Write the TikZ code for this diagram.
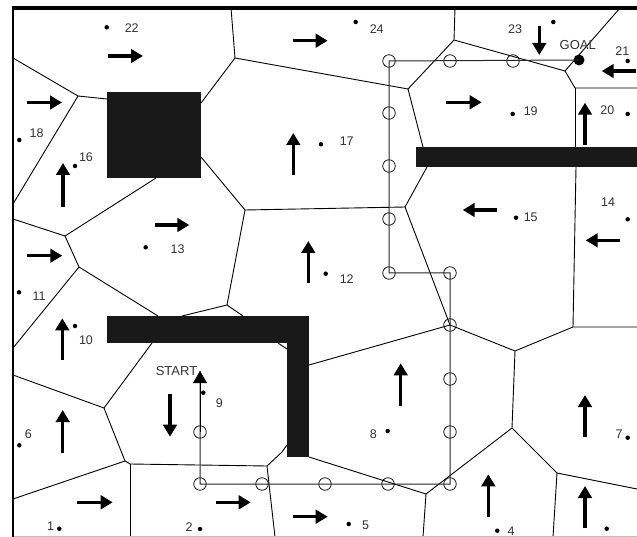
\documentclass[tikz,border=0pt]{standalone}
\usepackage{fontspec}
\setmainfont{Liberation Sans}
\usetikzlibrary{arrows.meta}
\begin{document}
\begin{tikzpicture}[x=1pt,y=-1pt,
  edge/.style={line width=0.9pt, black},
  wall/.style={fill=black!90, draw=none},
  dirarrow/.style={line width=3.3pt, -{Triangle[length=12pt,width=13.5pt]}},
  route/.style={line width=1pt, black!85},
  wp/.style={draw=black, line width=0.75pt, circle, minimum size=12.5pt, inner sep=0pt},
  seed/.style={fill=black, circle, minimum size=4.5pt, inner sep=0pt},
  lbl/.style={font=\fontsize{12.5}{14}\selectfont, text=black!80, inner sep=0pt}
]
\fill[white] (0,0) rectangle (637,537);
\useasboundingbox (0,0) rectangle (637,537);

% Voronoi vertices
\coordinate (A) at (235,58);
\coordinate (B) at (408,89);
\coordinate (C) at (245,210);
\coordinate (D) at (405,207);
\coordinate (E) at (227,305);
\coordinate (F) at (65,236);
\coordinate (G) at (79,267);
\coordinate (H) at (104,408);
\coordinate (I1) at (125,461);
\coordinate (I2) at (130,464);
\coordinate (J) at (267,466);
\coordinate (K) at (450,325);
\coordinate (L) at (515,351);
\coordinate (M) at (573,327);
\coordinate (N) at (565,71);
\coordinate (O) at (454,40);
\coordinate (P) at (512,428);
\coordinate (Q) at (426,494);
\coordinate (R) at (557,473);
\coordinate (Va) at (78,96);
\coordinate (T) at (575,88);

% Voronoi edges
\draw[edge] (13,58) -- (Va) -- (107,99);
\draw[edge] (Va) -- (13,204);
\draw[edge] (201,103) -- (A) -- (231,8);
\draw[edge] (A) -- (B) -- (O) -- (455,8);
\draw[edge] (O) -- (N) -- (620,8);
\draw[edge] (N) -- (T) -- (637,88);
\draw[edge] (T) -- (575,147);
\draw[edge] (576,167) -- (M);
\draw[edge] (B) -- (423,147);
\draw[edge] (427,167) -- (D);
\draw[edge] (C) -- (D) -- (K);
\draw[edge] (201,157) -- (C) -- (E);
\draw[edge] (182,316) -- (E) -- (243,316);
\draw[edge] (156,178) -- (F) -- (13,219);
\draw[edge] (F) -- (G) -- (13,348);
\draw[edge] (G) -- (158,316);
\draw[edge] (152,343) -- (H) -- (13,375);
\draw[edge] (H) -- (I1) -- (I2);
\draw[edge] (13,499) -- (I1);
\draw[edge] (I2) -- (130,537);
\draw[edge] (I2) -- (J) -- (282,452) -- (287,445);
\draw[edge] (J) -- (275,537);
\draw[edge] (278,343) -- (287,349);
\draw[edge] (309,365) -- (K) -- (L) -- (M) -- (637,327);
\draw[edge] (L) -- (P) -- (Q);
\draw[edge] (P) -- (R) -- (637,489);
\draw[edge] (R) -- (553,537);
\draw[edge] (Q) -- (423,537);
\draw[edge] (309,457) -- (Q);

% obstacles
\fill[wall] (107,92) rectangle (201,178);
\fill[wall] (107,316) rectangle (309,343);
\fill[wall] (287,316) rectangle (309,457);
\fill[wall] (416,147) rectangle (637,167);

% frame
\draw[black!25, line width=0.8pt] (13,536) -- (637,536);
\draw[line width=3.3pt] (11.5,8) -- (637,8);
\draw[line width=2.8pt] (13,6.5) -- (13,537);

% route waypoints
\node[wp] (w1) at (200,432) {};
\node[wp] (w2) at (200,484) {};
\node[wp] (w3) at (262,484) {};
\node[wp] (w4) at (325,484) {};
\node[wp] (w5) at (388,484) {};
\node[wp] (w6) at (450,484) {};
\node[wp] (w7) at (450,432) {};
\node[wp] (w8) at (450,379) {};
\node[wp] (w9) at (450,325) {};
\node[wp] (w10) at (450,273) {};
\node[wp] (w11) at (389,273) {};
\node[wp] (w12) at (389,219) {};
\node[wp] (w13) at (389,166) {};
\node[wp] (w14) at (389,113) {};
\node[wp] (w15) at (389,61) {};
\node[wp] (w16) at (450,61) {};
\node[wp] (w17) at (513,61) {};
\node[circle, fill=black, minimum size=11pt, inner sep=0pt] (goal) at (579,60) {};
\coordinate (start) at (200,371);

\draw[route] (start) -- (w2.center) -- (w6.center) -- (w10.center) -- (w11.center)
  -- (w15.center) -- (goal.center);
\draw[line width=1pt, -{Triangle[length=12pt,width=14pt]}] (w1.center) -- (start);

\node[lbl, font=\fontsize{13}{15}\selectfont] (startlbl) at (176.5,371) {START};
\node[lbl, font=\fontsize{13}{15}\selectfont] (goallbl) at (577.7,45.3) {GOAL};

% direction arrows
\draw[dirarrow] (108,56) -- (143,56);
\draw[dirarrow] (27,102.5) -- (62,102.5);
\draw[dirarrow] (63,207) -- (63,163);
\draw[dirarrow] (293.3,175) -- (293.3,133);
\draw[dirarrow] (292.7,40.7) -- (327.7,40.7);
\draw[dirarrow] (539.3,26) -- (539.3,55);
\draw[dirarrow] (636,71) -- (601.7,71);
\draw[dirarrow] (446,102.3) -- (481.7,102.3);
\draw[dirarrow] (585,145) -- (585,102.7);
\draw[dirarrow] (497.3,210) -- (462.7,210);
\draw[dirarrow] (620,240.3) -- (585.7,240.3);
\draw[dirarrow] (155,225) -- (189.3,225);
\draw[dirarrow] (27.3,255.7) -- (62.3,255.7);
\draw[dirarrow] (308.3,283.3) -- (308.3,241);
\draw[dirarrow] (62.3,360) -- (62.3,318.3);
\draw[dirarrow] (170,394) -- (170,436.7);
\draw[dirarrow] (62.7,452.7) -- (62.7,410);
\draw[dirarrow] (77.3,502.3) -- (112.7,502.3);
\draw[dirarrow] (216,502.3) -- (250.7,502.3);
\draw[dirarrow] (292.7,516.7) -- (327.7,516.7);
\draw[dirarrow] (400.7,406) -- (400.7,363.3);
\draw[dirarrow] (585,437.3) -- (585,395);
\draw[dirarrow] (488.3,516.7) -- (488.3,474.3);
\draw[dirarrow] (585,528.3) -- (585,486);

% seeds and labels
\node[seed] (s22) at (106.7,27.3) {}; \node[lbl] (l22) at (131.7,27.7) {22};
\node[seed] (s24) at (355.7,22) {};   \node[lbl] (l24) at (376.7,29) {24};
\node[seed] (s23) at (553.3,22) {};   \node[lbl] (l23) at (515,29) {23};
\node[seed] (s21) at (627.7,61) {};   \node[lbl] (l21) at (622.3,50.7) {21};
\node[seed] (s20) at (627.7,114) {};  \node[lbl] (l20) at (607.3,110) {20};
\node[seed] (s19) at (512.7,114) {};  \node[lbl] (l19) at (530.7,111) {19};
\node[seed] (s18) at (19.3,140) {};   \node[lbl] (l18) at (36.7,132.7) {18};
\node[seed] (s16) at (75,166) {};     \node[lbl] (l16) at (86,157.5) {16};
\node[seed] (s17) at (321,144.3) {};  \node[lbl] (l17) at (346.7,141.7) {17};
\node[seed] (s15) at (516,217.7) {};  \node[lbl] (l15) at (530.7,217.7) {15};
\node[seed] (s14) at (627.7,219.3) {};\node[lbl] (l14) at (608,202.3) {14};
\node[seed] (s13) at (145.7,247.3) {};\node[lbl] (l13) at (177.7,249.3) {13};
\node[seed] (s12) at (325.7,273.7) {};\node[lbl] (l12) at (346.7,279.3) {12};
\node[seed] (s11) at (19,292.3) {};   \node[lbl] (l11) at (39,296.7) {11};
\node[seed] (s10) at (75,326) {};     \node[lbl] (l10) at (86,340.3) {10};
\node[seed] (s9) at (203.3,392.7) {}; \node[lbl] (l9) at (219.3,402.7) {9};
\node[seed] (s6) at (19.3,445.3) {};  \node[lbl] (l6) at (28.3,434.3) {6};
\node[seed] (s1) at (59.3,528.7) {};  \node[lbl] (l1) at (50.7,526) {1};
\node[seed] (s2) at (200,529) {};     \node[lbl] (l2) at (189,526.7) {2};
\node[seed] (s8) at (387.7,431) {};   \node[lbl] (l8) at (373.3,434.3) {8};
\node[seed] (s5) at (348.7,524) {};   \node[lbl] (l5) at (365.7,525) {5};
\node[seed] (s4) at (497.3,530.7) {}; \node[lbl] (l4) at (511,531) {4};
\node[seed] (s7) at (627.7,437.7) {}; \node[lbl] (l7) at (619,434.3) {7};
\node[seed] (s3) at (606.7,528.7) {};
\end{tikzpicture}
\end{document}
